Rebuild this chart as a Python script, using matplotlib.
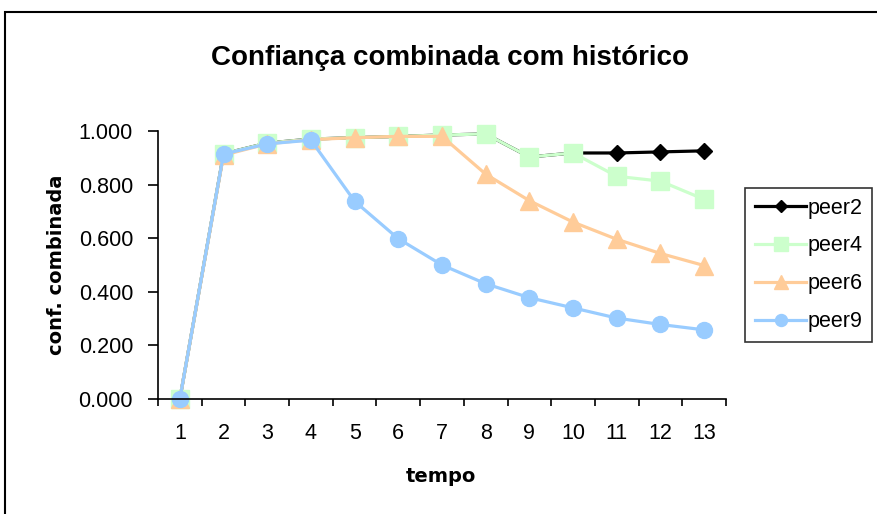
import matplotlib
matplotlib.use("Agg")
import matplotlib.pyplot as plt
from matplotlib.patches import Rectangle

plt.rcParams['font.family'] = ['Liberation Sans', 'DejaVu Sans']

tempo = list(range(1, 14))
peer2 = [0.0, 0.915, 0.955, 0.970, 0.975, 0.980, 0.985, 0.989, 0.903, 0.918, 0.918, 0.922, 0.926]
peer4 = [0.0, 0.915, 0.955, 0.970, 0.975, 0.980, 0.985, 0.989, 0.903, 0.918, 0.831, 0.813, 0.745]
peer6 = [0.0, 0.910, 0.952, 0.968, 0.975, 0.980, 0.980, 0.839, 0.740, 0.660, 0.596, 0.543, 0.498]
peer9 = [0.0, 0.914, 0.952, 0.966, 0.738, 0.598, 0.500, 0.430, 0.378, 0.340, 0.302, 0.278, 0.258]
yticks = [0.0, 0.2, 0.4, 0.6, 0.8, 1.0]

series = [
    ('peer2', peer2, '#000000', 'D', 8),
    ('peer4', peer4, '#CCFFCC', 's', 12.5),
    ('peer6', peer6, '#FFCC99', '^', 12.5),
    ('peer9', peer9, '#99CCFF', 'o', 11.5),
]

W, H = 877, 514
fig = plt.figure(figsize=(W / 100, H / 100), dpi=100)
# chart area frame
fig.patches.append(Rectangle((5 / W, -0.1), 1.0, 1.1 - 12 / H, transform=fig.transFigure,
                             fill=False, edgecolor='black', linewidth=1.5))

ax = fig.add_axes([158 / W, 1 - 399 / H, (726 - 158) / W, (399 - 131) / H])
for name, vals, color, marker, ms in series:
    ax.plot(tempo, vals, color=color, marker=marker, markersize=ms, linewidth=2.3,
            markeredgecolor=color, label=name, clip_on=False)

ax.set_xlim(0.5, 13.5)
ax.set_ylim(0, 1.0)
# category boundaries carry the tick marks, labels sit between them
ax.set_xticks([x + 0.5 for x in range(0, 14)])
ax.set_xticklabels([])
ax.set_xticks(tempo, minor=True)
ax.set_xticklabels([str(t) for t in tempo], minor=True, fontsize=15.5)
ax.tick_params(axis='x', which='minor', length=0, pad=17)
ax.tick_params(axis='x', which='major', length=5, direction='out', width=1.2)
ax.set_yticks(yticks)
ax.set_yticklabels([f'{v:.3f}' for v in yticks], fontsize=15.5)
ax.tick_params(axis='y', length=7, direction='out', width=1.2, pad=11)
for s in ['top', 'right']:
    ax.spines[s].set_visible(False)
for s in ['left', 'bottom']:
    ax.spines[s].set_linewidth(1.2)

fig.text(441 / W, 1 - 482 / H, 'tempo', fontsize=14, fontweight='bold',
         family='DejaVu Sans', ha='center', va='baseline')
fig.text(57 / W, 1 - 265 / H, 'conf. combinada', fontsize=14, fontweight='bold',
         family='DejaVu Sans', ha='center', va='center', rotation=90)
fig.text(450 / W, 1 - 65 / H, 'Confiança combinada com histórico', fontsize=20,
         fontweight='bold', ha='center', va='baseline')

leg = ax.legend(loc='upper left', bbox_to_anchor=(745 / W, 1 - 188 / H),
                bbox_transform=fig.transFigure, fontsize=15.5, frameon=True, fancybox=False,
                handlelength=2.4, handletextpad=0.05, borderpad=0.45, labelspacing=0.78,
                borderaxespad=0, markerscale=0.75)
leg.get_frame().set_edgecolor('black')
leg.get_frame().set_linewidth(1.2)

fig.savefig('out.png', dpi=100)
